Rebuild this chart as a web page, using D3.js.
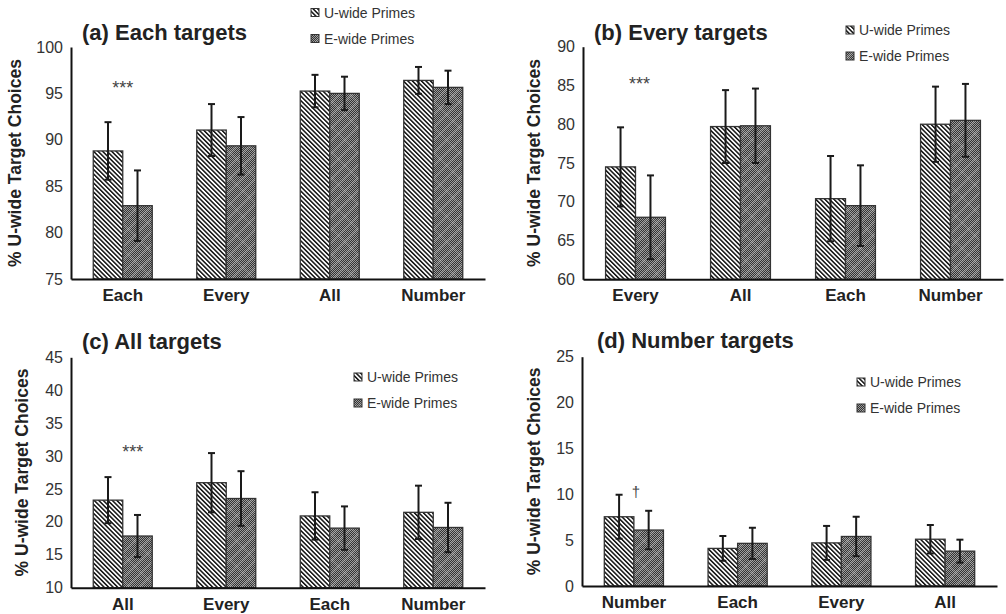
<!DOCTYPE html>
<html>
<head>
<meta charset="utf-8">
<script src="https://cdn.jsdelivr.net/npm/d3@7"></script>
<style>
  html, body { margin: 0; padding: 0; background: #fff; }
  svg { display: block; }
  text { font-family: "Liberation Sans", Arial, sans-serif; }
</style>
</head>
<body>
<svg id="chart" width="1006" height="614"></svg>
<script>
// ---------------- DATA ----------------
const seriesNames = ["U-wide Primes", "E-wide Primes"];

const categoriesA = ["Each", "Every", "All", "Number"];
const uA = [88.8, 91.05, 95.25, 96.4];
const uAerr = [3.1, 2.8, 1.75, 1.45];
const eA = [82.9, 89.35, 95.0, 95.65];
const eAerr = [3.8, 3.1, 1.8, 1.8];
const ticksA = [75, 80, 85, 90, 95, 100];

const categoriesB = ["Every", "All", "Each", "Number"];
const uB = [74.5, 79.7, 70.4, 80.0];
const uBerr = [5.1, 4.7, 5.5, 4.85];
const eB = [68.0, 79.8, 69.5, 80.5];
const eBerr = [5.4, 4.8, 5.2, 4.7];
const ticksB = [60, 65, 70, 75, 80, 85, 90];

const categoriesC = ["All", "Every", "Each", "Number"];
const uC = [23.3, 25.95, 20.9, 21.45];
const uCerr = [3.5, 4.5, 3.6, 4.05];
const eC = [17.85, 23.55, 19.05, 19.15];
const eCerr = [3.2, 4.15, 3.3, 3.75];
const ticksC = [10, 15, 20, 25, 30, 35, 40, 45];

const categoriesD = ["Number", "Each", "Every", "All"];
const uD = [7.55, 4.1, 4.7, 5.1];
const uDerr = [2.4, 1.35, 1.85, 1.55];
const eD = [6.1, 4.65, 5.4, 3.8];
const eDerr = [2.1, 1.7, 2.15, 1.25];
const ticksD = [0, 5, 10, 15, 20, 25];

const titles = ["(a) Each targets", "(b) Every targets", "(c) All targets", "(d) Number targets"];
const yLabel = "% U-wide Target Choices";
// significance markers: [category index, y value, text]
const sigA = [0, 96.1, "***"];
const sigB = [0, 85.8, "***"];
const sigC = [0, 31.4, "***"];
const sigD = [0, 10.25, "\u2020"];

// ---------------- LAYOUT ----------------
const panels = [
  { cats: categoriesA, u: uA, ue: uAerr, e: eA, ee: eAerr, ticks: ticksA, title: titles[0], sig: sigA,
    x0: 71, x1: 485, yTop: 47, yBot: 279, titleX: 82, titleY: 40, legX: 311, legY: 8.5, ylabX: 15, sigDx: 0 },
  { cats: categoriesB, u: uB, ue: uBerr, e: eB, ee: eBerr, ticks: ticksB, title: titles[1], sig: sigB,
    x0: 583, x1: 1003, yTop: 46.7, yBot: 279.3, titleX: 594, titleY: 40, legX: 846, legY: 26, ylabX: 534, sigDx: 4 },
  { cats: categoriesC, u: uC, ue: uCerr, e: eC, ee: eCerr, ticks: ticksC, title: titles[2], sig: sigC,
    x0: 71, x1: 485, yTop: 357.3, yBot: 587.7, titleX: 82, titleY: 349, legX: 354, legY: 373, ylabX: 22, sigDx: 10 },
  { cats: categoriesD, u: uD, ue: uDerr, e: eD, ee: eDerr, ticks: ticksD, title: titles[3], sig: sigD,
    x0: 582, x1: 997, yTop: 356.7, yBot: 586, titleX: 597, titleY: 348, legX: 857, legY: 378, ylabX: 534, sigDx: 2 }
];

const svg = d3.select("#chart");
const defs = svg.append("defs");

// U-wide hatch: white with black "\" lines
const pu = defs.append("pattern").attr("id", "patU").attr("patternUnits", "userSpaceOnUse")
  .attr("width", 3.2).attr("height", 10).attr("patternTransform", "rotate(-45)");
pu.append("rect").attr("width", 3.2).attr("height", 10).attr("fill", "#fff");
pu.append("rect").attr("width", 1.5).attr("height", 10).attr("fill", "#111");

// E-wide: fine checker
const pc = defs.append("pattern").attr("id", "patChk").attr("patternUnits", "userSpaceOnUse")
  .attr("width", 2).attr("height", 2);
pc.append("rect").attr("width", 2).attr("height", 2).attr("fill", "#333");
pc.append("rect").attr("width", 1).attr("height", 1).attr("fill", "#9c9c9c");
pc.append("rect").attr("x", 1).attr("y", 1).attr("width", 1).attr("height", 1).attr("fill", "#9c9c9c");
// E-wide lighter diagonal lines
const pl = defs.append("pattern").attr("id", "patLines").attr("patternUnits", "userSpaceOnUse")
  .attr("width", 9).attr("height", 10).attr("patternTransform", "rotate(45)");
pl.append("rect").attr("width", 1.6).attr("height", 10).attr("fill", "#fff").attr("opacity", 0.2);
const pl2 = defs.append("pattern").attr("id", "patLines2").attr("patternUnits", "userSpaceOnUse")
  .attr("width", 18).attr("height", 10).attr("patternTransform", "rotate(-45)");
pl2.append("rect").attr("width", 1.5).attr("height", 10).attr("fill", "#fff").attr("opacity", 0.14);

function eFill(sel, x, y, w, h) {
  sel.append("rect").attr("x", x).attr("y", y).attr("width", w).attr("height", h).attr("fill", "url(#patChk)");
  sel.append("rect").attr("x", x).attr("y", y).attr("width", w).attr("height", h).attr("fill", "url(#patLines)");
  sel.append("rect").attr("x", x).attr("y", y).attr("width", w).attr("height", h).attr("fill", "url(#patLines2)");
}

panels.forEach(p => {
  const g = svg.append("g");
  const y = d3.scaleLinear().domain([p.ticks[0], p.ticks[p.ticks.length - 1]]).range([p.yBot, p.yTop]);
  const x = d3.scaleBand().domain(p.cats).range([p.x0, p.x1]).paddingInner(0.43).paddingOuter(0.215);
  const xs = d3.scaleBand().domain(seriesNames).range([0, x.bandwidth()]);

  const rows = p.cats.map((c, i) => ({ c, vals: [ [seriesNames[0], p.u[i], p.ue[i]], [seriesNames[1], p.e[i], p.ee[i]] ] }));

  // bars
  rows.forEach(r => {
    r.vals.forEach(([s, v, err]) => {
      const bx = x(r.c) + xs(s), bw = xs.bandwidth(), by = y(v), bh = y(p.ticks[0]) - y(v);
      const bg = g.append("g");
      if (s === seriesNames[0]) {
        bg.append("rect").attr("x", bx).attr("y", by).attr("width", bw).attr("height", bh).attr("fill", "url(#patU)");
      } else {
        eFill(bg, bx, by, bw, bh);
      }
      bg.append("rect").attr("x", bx).attr("y", by).attr("width", bw).attr("height", bh)
        .attr("fill", "none").attr("stroke", "#333").attr("stroke-width", 1.3);
    });
  });
  // error bars
  rows.forEach(r => {
    r.vals.forEach(([s, v, err]) => {
      const cx = x(r.c) + xs(s) + xs.bandwidth() / 2;
      const eg = g.append("g").attr("stroke", "#1a1a1a").attr("stroke-width", 2);
      eg.append("line").attr("x1", cx).attr("x2", cx).attr("y1", y(v - err)).attr("y2", y(v + err));
      eg.append("line").attr("x1", cx - 3.5).attr("x2", cx + 3.5).attr("y1", y(v + err)).attr("y2", y(v + err));
      eg.append("line").attr("x1", cx - 3.5).attr("x2", cx + 3.5).attr("y1", y(v - err)).attr("y2", y(v - err));
    });
  });

  // axes
  const ya = g.append("g").attr("transform", `translate(${p.x0},0)`)
    .call(d3.axisLeft(y).tickValues(p.ticks).tickSize(0).tickPadding(8).tickFormat(d3.format("d")));
  ya.select(".domain").attr("stroke", "#111").attr("stroke-width", 2);
  ya.selectAll("text").attr("font-size", 16).attr("fill", "#333").attr("font-family", "Liberation Sans, Arial, sans-serif");

  const xa = g.append("g").attr("transform", `translate(0,${p.yBot})`)
    .call(d3.axisBottom(x).tickSize(0).tickPadding(10).tickSizeOuter(0));
  xa.select(".domain").attr("stroke", "#111").attr("stroke-width", 2);
  xa.selectAll("text").attr("font-size", 17).attr("font-weight", "bold").attr("fill", "#222")
    .attr("font-family", "Liberation Sans, Arial, sans-serif");

  // y label
  g.append("text").attr("transform", `translate(${p.ylabX + 6},${(p.yTop + p.yBot) / 2}) rotate(-90)`)
    .attr("text-anchor", "middle").attr("font-size", 17.5).attr("font-weight", "bold").attr("fill", "#222")
    .text(yLabel);

  // title
  g.append("text").attr("x", p.titleX).attr("y", p.titleY).attr("font-size", 22).attr("font-weight", "bold")
    .attr("fill", "#222").text(p.title);

  // legend
  seriesNames.forEach((s, i) => {
    const ly = p.legY + i * 26;
    const lg = g.append("g");
    if (i === 0) {
      lg.append("rect").attr("x", p.legX).attr("y", ly).attr("width", 8).attr("height", 8).attr("fill", "url(#patU)");
    } else {
      eFill(lg, p.legX, ly, 8, 8);
    }
    lg.append("rect").attr("x", p.legX).attr("y", ly).attr("width", 8).attr("height", 8)
      .attr("fill", "none").attr("stroke", "#333").attr("stroke-width", 1);
    lg.append("text").attr("x", p.legX + 13).attr("y", ly + 9).attr("font-size", 14).attr("fill", "#333").text(s);
  });

  // significance marker
  const [si, sv, st] = p.sig;
  const sx = x(p.cats[si]) + x.bandwidth() / 2 + p.sigDx;
  g.append("text").attr("x", sx).attr("y", y(sv)).attr("text-anchor", "middle")
    .attr("dy", st === "***" ? "0.62em" : "0.35em")
    .attr("font-size", st === "***" ? 18 : 15).attr("fill", "#444").text(st);
});
</script>
</body>
</html>
